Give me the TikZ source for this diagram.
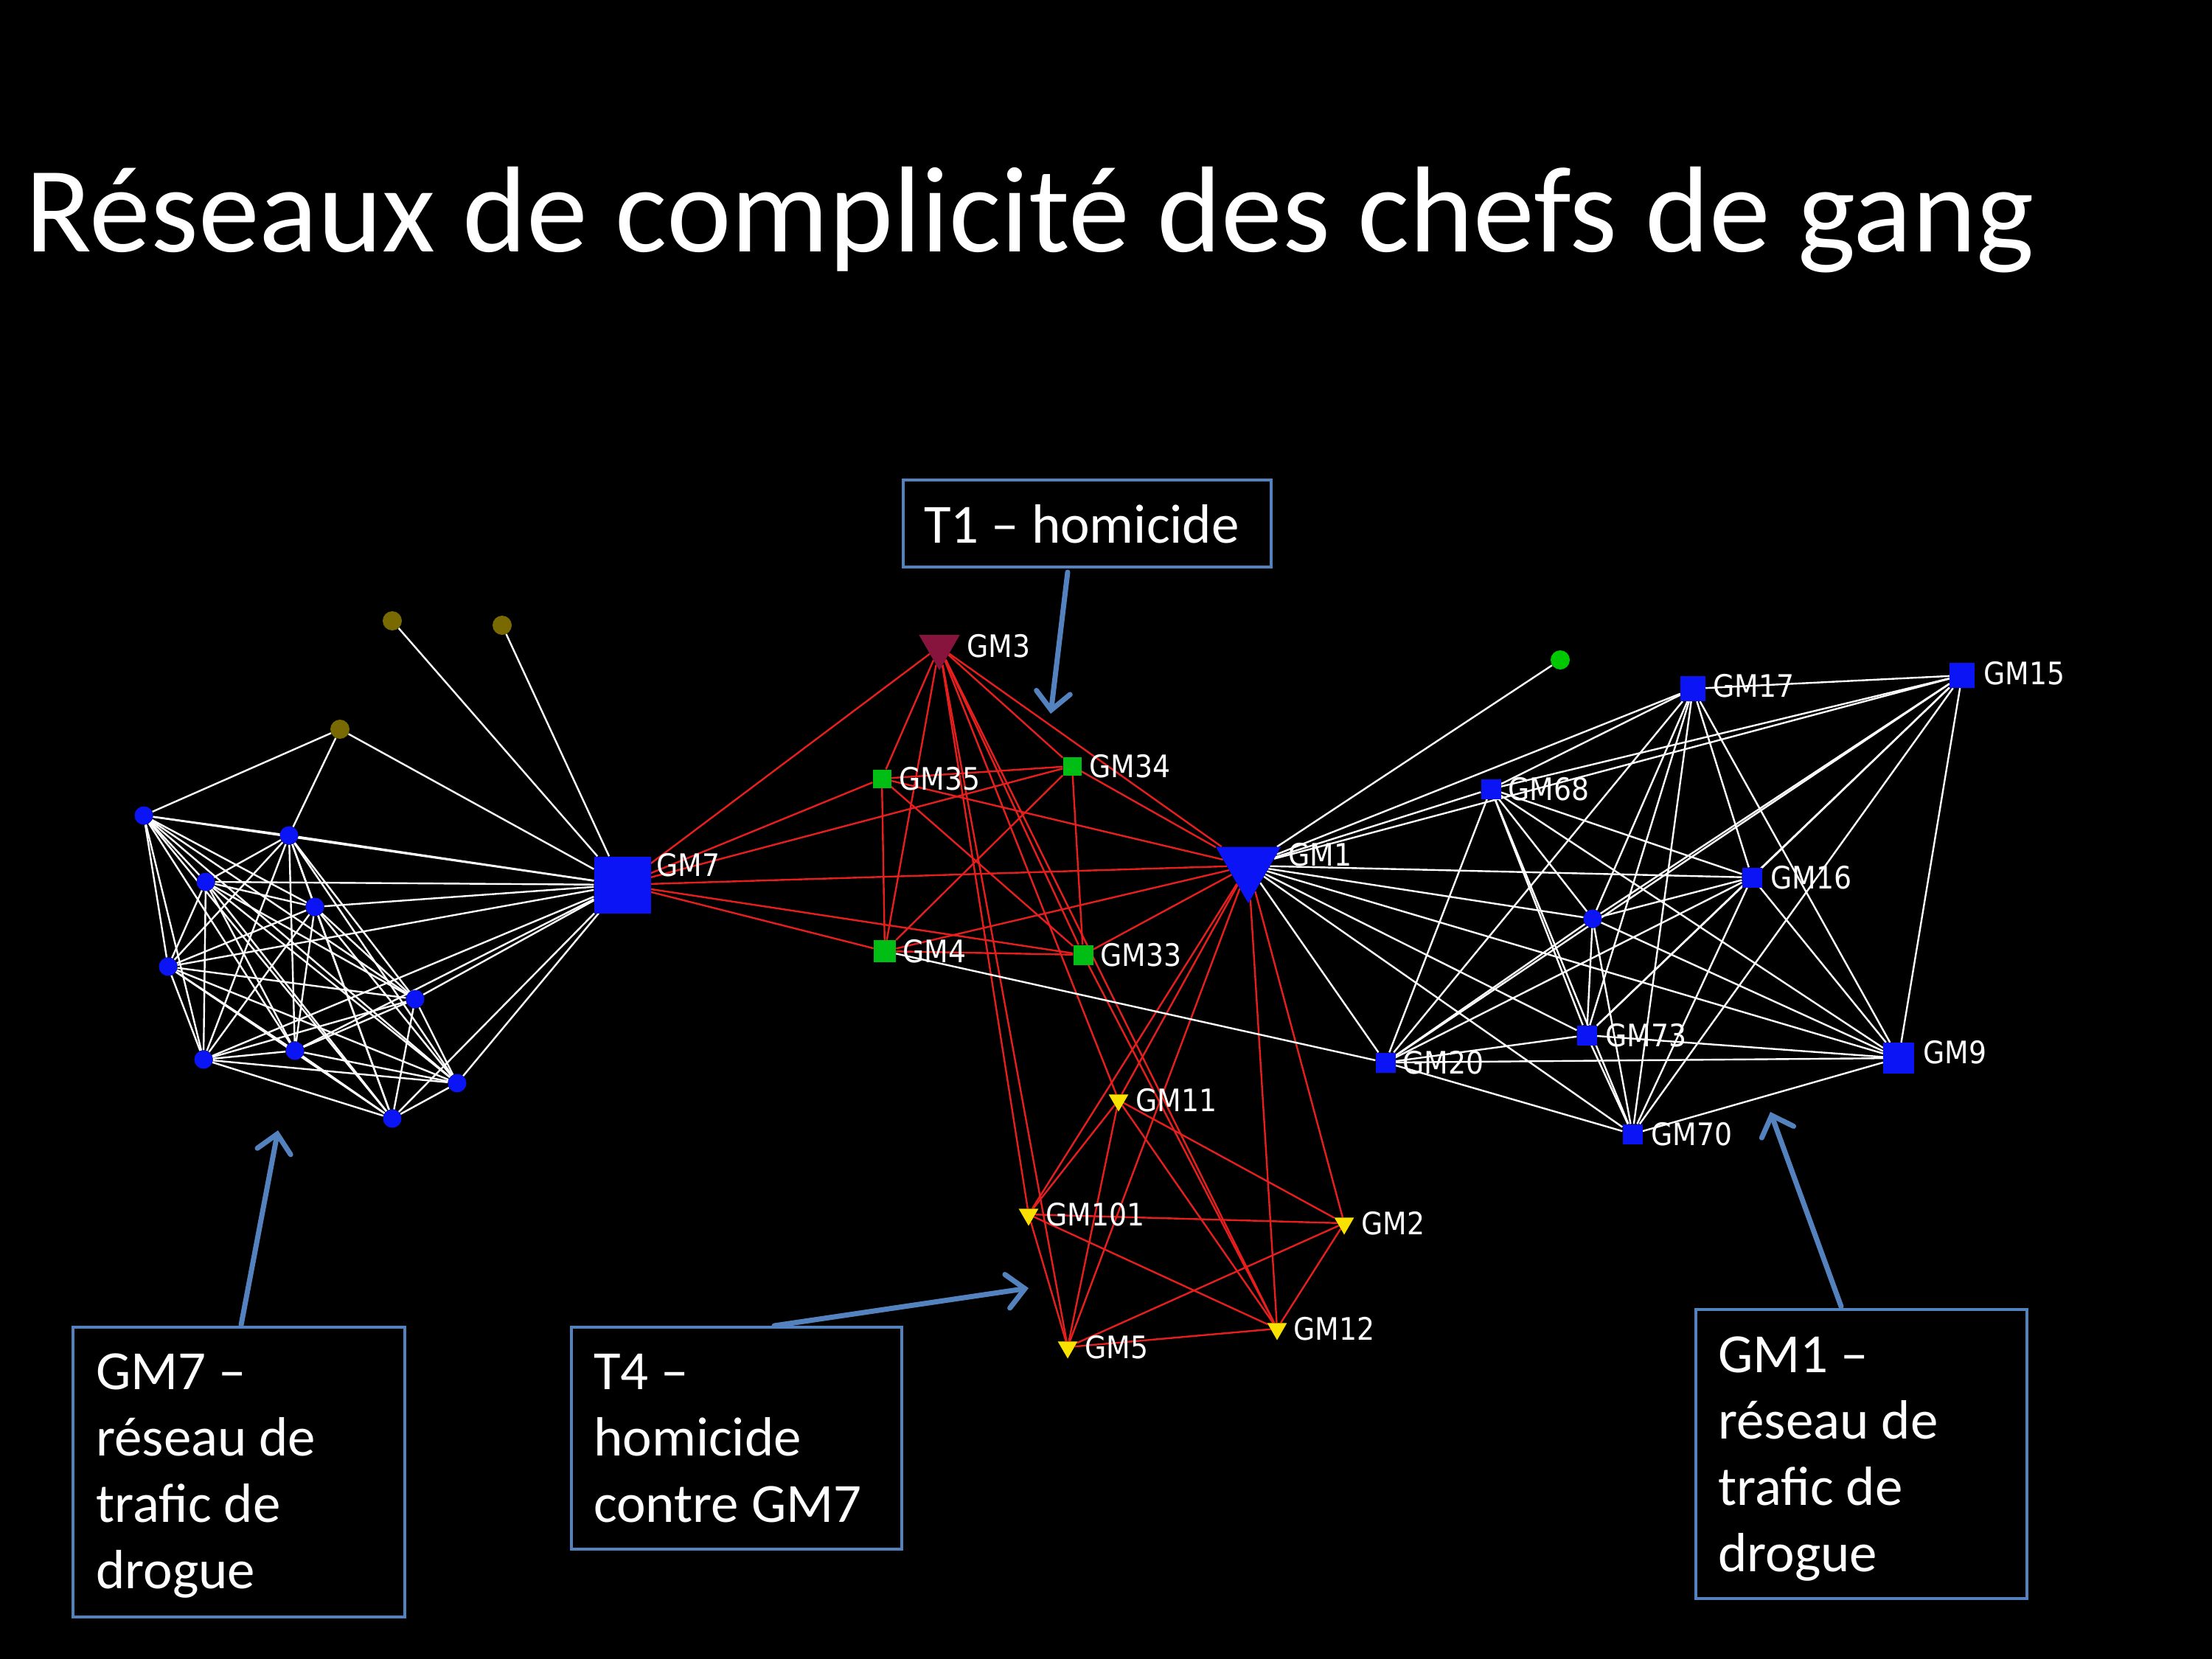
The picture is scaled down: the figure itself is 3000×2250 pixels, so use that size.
\documentclass[tikz,border=0pt]{standalone}
\usepackage{fontspec}
\setmainfont{Carlito}
\newfontfamily\labfont{DejaVu Sans Condensed}
\usetikzlibrary{shapes.geometric,arrows.meta}
\pgfdeclarelayer{bgfill}
\pgfdeclarelayer{edges}
\pgfsetlayers{bgfill,edges,main}
\definecolor{nodeblue}{RGB}{10,20,245}
\definecolor{nodegreen}{RGB}{0,190,20}
\definecolor{nodeyellow}{RGB}{250,225,0}
\definecolor{nodecrimson}{RGB}{135,20,60}
\definecolor{nodeolive}{RGB}{120,105,0}
\definecolor{dotgreen}{RGB}{0,200,0}
\definecolor{edgered}{RGB}{230,30,30}
\definecolor{callblue}{RGB}{84,130,190}
\tikzset{
  bdot/.style={circle, fill=nodeblue, minimum size=25pt, inner sep=0pt},
  odot/.style={circle, fill=nodeolive, minimum size=26pt, inner sep=0pt},
  gdot/.style={circle, fill=dotgreen, minimum size=26pt, inner sep=0pt},
  sqb/.style={rectangle, fill=nodeblue, minimum size=#1, inner sep=0pt},
  sqg/.style={rectangle, fill=nodegreen, minimum size=#1, inner sep=0pt},
  tri/.style={regular polygon, regular polygon sides=3, shape border rotate=180, inner sep=0pt, minimum size=#1},
  ytri/.style={tri=31pt, fill=nodeyellow},
  lab/.style={font=\labfont\fontsize{42}{50}\selectfont, text=white, anchor=west, inner sep=0pt},
  wedge/.style={white, line width=2.4pt},
  redge/.style={edgered, line width=2.4pt},
  callout/.style={draw=callblue, line width=3.5pt, inner sep=0pt},
  boxtext/.style={font=\fontsize{75}{90}\selectfont, text=white, anchor=base west, inner sep=0pt},
  callarrow/.style={callblue, line width=7pt, line cap=round, -{Straight Barb[length=24pt,width=46pt,line cap=round]}}
}
\begin{document}
\begin{tikzpicture}[x=1pt,y=-1pt]
\begin{pgfonlayer}{bgfill}
\path[use as bounding box, fill=black] (0,0) rectangle (3000,2250);
\end{pgfonlayer}

% title
\node[font=\fontsize{166}{200}\selectfont, text=white, anchor=base west, inner sep=0pt] (title) at (34,341) {Réseaux de complicité des chefs de gang};

% ---------- left cluster ----------
\node[odot] (o1) at (532,842) {};
\node[odot] (o2) at (681,848) {};
\node[odot] (o3) at (461,989) {};
\node[bdot] (l1) at (195,1106) {};
\node[bdot] (l2) at (392,1133) {};
\node[bdot] (l3) at (279,1196) {};
\node[bdot] (l4) at (427,1230) {};
\node[bdot] (l5) at (228,1311) {};
\node[bdot] (l6) at (563,1355) {};
\node[bdot] (l7) at (276,1437) {};
\node[bdot] (l8) at (400,1425) {};
\node[bdot] (l9) at (620,1469) {};
\node[bdot] (l10) at (532,1517) {};
\node[sqb=77pt] (gm7) at (844,1200) {};

% ---------- middle cluster ----------
\node[tri=64pt, fill=nodecrimson] (gm3) at (1274,877) {};
\node[sqg=25pt] (gm35) at (1196,1056) {};
\node[sqg=25pt] (gm34) at (1454,1039) {};
\node[sqg=30pt] (gm4) at (1200,1290) {};
\node[sqg=27pt] (gm33) at (1469,1295) {};
\node[tri=102pt, fill=nodeblue] (gm1) at (1693,1174) {};
\node[ytri] (gm11) at (1517,1492) {};
\node[ytri] (gm101) at (1395,1647) {};
\node[ytri] (gm2) at (1823,1659) {};
\node[ytri] (gm12) at (1732,1802) {};
\node[ytri] (gm5) at (1448,1827) {};

% ---------- right cluster ----------
\node[gdot] (gd) at (2116,895) {};
\node[sqb=34pt] (gm17) at (2296,934) {};
\node[sqb=34pt] (gm15) at (2661,916) {};
\node[sqb=27pt] (gm68) at (2022,1070) {};
\node[sqb=27pt] (gm16) at (2376,1190) {};
\node[bdot] (u) at (2160,1246) {};
\node[sqb=27pt] (gm73) at (2152,1404) {};
\node[sqb=27pt] (gm20) at (1879,1441) {};
\node[sqb=42pt] (gm9) at (2575,1435) {};
\node[sqb=27pt] (gm70) at (2214,1538) {};

% ---------- edges ----------
\begin{pgfonlayer}{edges}
\foreach \i in {1,...,10}{
  \pgfmathtruncatemacro\nexti{\i+1}
  \ifnum\i<10
    \foreach \j in {\nexti,...,10}{\draw[wedge] (l\i) -- (l\j);}
  \fi
  \draw[wedge] (l\i) -- (gm7);
}
\foreach \a/\b in {o3/l1,o3/l2,o3/gm7,o1/gm7,o2/gm7}{\draw[wedge] (\a) -- (\b);}

\foreach \a/\b in {gm7/gm3,gm7/gm35,gm7/gm34,gm7/gm1,gm7/gm4,gm7/gm33,
  gm3/gm35,gm3/gm34,gm3/gm4,gm3/gm33,gm3/gm1,gm3/gm101,gm3/gm5,gm3/gm11,gm3/gm12,
  gm35/gm34,gm35/gm4,gm35/gm33,gm35/gm1,
  gm34/gm4,gm34/gm33,gm34/gm1,
  gm4/gm33,gm4/gm1,
  gm33/gm1,gm33/gm12,
  gm1/gm11,gm1/gm101,gm1/gm5,gm1/gm12,gm1/gm2,
  gm11/gm101,gm11/gm5,gm11/gm2,gm11/gm12,
  gm101/gm2,gm101/gm5,gm101/gm12,
  gm2/gm5,gm2/gm12,gm12/gm5}{\draw[redge] (\a) -- (\b);}

\foreach \a/\b in {gm4/gm20,gm1/gd,gm1/gm68,gm1/gm17,gm1/gm15,gm1/gm16,gm1/u,gm1/gm9,gm1/gm73,gm1/gm20,gm1/gm70,
  gm17/gm15,gm17/gm68,gm17/gm16,gm17/u,gm17/gm73,gm17/gm70,gm17/gm20,gm17/gm9,
  gm15/gm68,gm15/gm16,gm15/u,gm15/gm20,gm15/gm73,gm15/gm9,gm15/gm70,
  gm68/gm16,gm68/gm20,gm68/gm73,gm68/gm70,gm68/gm9,gm68/u,
  gm16/u,gm16/gm20,gm16/gm73,gm16/gm70,gm16/gm9,
  u/gm20,u/gm73,u/gm70,u/gm9,
  gm73/gm20,gm73/gm9,gm73/gm70,
  gm20/gm9,gm20/gm70,gm70/gm9}{\draw[wedge] (\a) -- (\b);}
\end{pgfonlayer}

% ---------- labels ----------
\node[lab] (t-gm7) at (890,1173) {GM7};
\node[lab] (t-gm3) at (1311,876) {GM3};
\node[lab] (t-gm35) at (1219,1056) {GM35};
\node[lab] (t-gm34) at (1477,1039) {GM34};
\node[lab] (t-gm4) at (1224,1290) {GM4};
\node[lab] (t-gm33) at (1492,1295) {GM33};
\node[lab] (t-gm1) at (1747,1159) {GM1};
\node[lab] (t-gm11) at (1540,1492) {GM11};
\node[lab] (t-gm101) at (1418,1647) {GM101};
\node[lab] (t-gm2) at (1846,1659) {GM2};
\node[lab] (t-gm12) at (1754,1802) {GM12};
\node[lab] (t-gm5) at (1471,1827) {GM5};
\node[lab] (t-gm17) at (2323,930) {GM17};
\node[lab] (t-gm15) at (2690,913) {GM15};
\node[lab] (t-gm68) at (2045,1070) {GM68};
\node[lab] (t-gm16) at (2401,1190) {GM16};
\node[lab] (t-gm73) at (2177,1404) {GM73};
\node[lab] (t-gm20) at (1902,1441) {GM20};
\node[lab] (t-gm9) at (2608,1427) {GM9};
\node[lab] (t-gm70) at (2239,1538) {GM70};

% ---------- callout boxes ----------
\node[callout, minimum width=499pt, minimum height=118pt] (boxt1) at (1474.5,710) {};
\node[boxtext] (txt-t1) at (1253,736) {T1 – homicide};

\node[callout, minimum width=450pt, minimum height=393pt] (boxgm7) at (324,1996.5) {};
\node[boxtext] (txt-gm7a) at (130,1884) {GM7 –};
\node[boxtext] (txt-gm7b) at (130,1974) {réseau de};
\node[boxtext] (txt-gm7c) at (130,2064) {trafic de};
\node[boxtext] (txt-gm7d) at (130,2154) {drogue};

\node[callout, minimum width=448pt, minimum height=301pt] (boxt4) at (999,1950.5) {};
\node[boxtext] (txt-t4a) at (805,1884) {T4 –};
\node[boxtext] (txt-t4b) at (805,1974) {homicide};
\node[boxtext] (txt-t4c) at (805,2064) {contre GM7};

\node[callout, minimum width=449pt, minimum height=392pt] (boxgm1) at (2524.5,1972) {};
\node[boxtext] (txt-gm1a) at (2330,1861) {GM1 –};
\node[boxtext] (txt-gm1b) at (2330,1951) {réseau de};
\node[boxtext] (txt-gm1c) at (2330,2041) {trafic de};
\node[boxtext] (txt-gm1d) at (2330,2131) {drogue};

% ---------- callout arrows ----------
\coordinate (a1s) at (1448,776);
\coordinate (a1e) at (1425,968);
\coordinate (a2s) at (327,1797);
\coordinate (a2e) at (377,1533);
\coordinate (a3s) at (1050,1798);
\coordinate (a3e) at (1395,1747);
\coordinate (a4s) at (2497,1772);
\coordinate (a4e) at (2401,1508);
\draw[callarrow] (a1s) -- (a1e);
\draw[callarrow] (a2s) -- (a2e);
\draw[callarrow] (a3s) -- (a3e);
\draw[callarrow] (a4s) -- (a4e);
\end{tikzpicture}
\end{document}
